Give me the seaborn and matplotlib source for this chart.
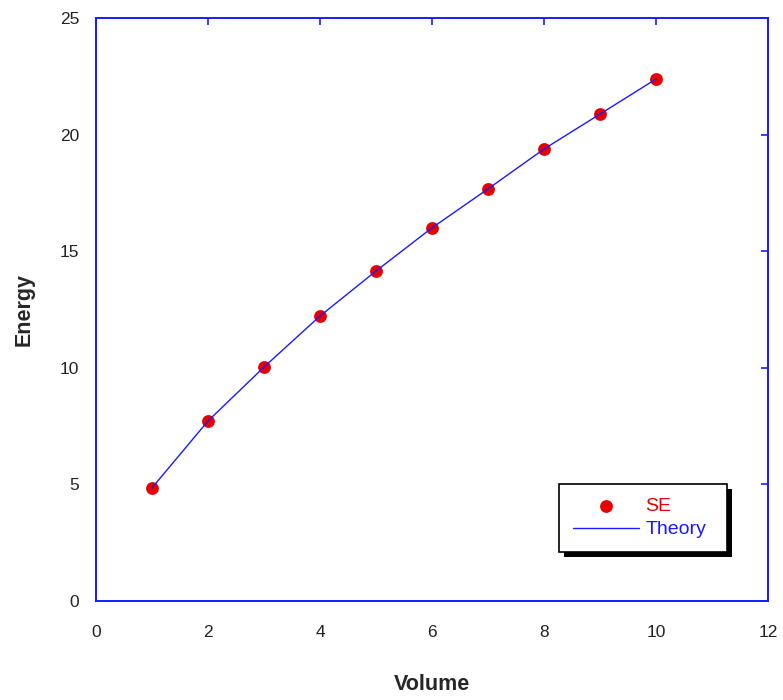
import matplotlib
matplotlib.use("Agg")
import matplotlib.pyplot as plt
import matplotlib.patches as mpatches
from matplotlib.transforms import IdentityTransform
import seaborn as sns
import pandas as pd

# Measured energy at each volume and the theory curve through the same points
volume = [1, 2, 3, 4, 5, 6, 7, 8, 9, 10]
energy_se = [4.85, 7.72, 10.03, 12.22, 14.15, 16.0, 17.67, 19.38, 20.88, 22.38]
energy_theory = [4.85, 7.72, 10.03, 12.22, 14.15, 16.0, 17.67, 19.38, 20.88, 22.38]
x_ticks = [0, 2, 4, 6, 8, 10, 12]
y_ticks = [0, 5, 10, 15, 20, 25]

df = pd.DataFrame({"Volume": volume, "SE": energy_se, "Theory": energy_theory})

sns.set_theme(style="white")
plt.rcParams["font.family"] = ["Liberation Sans", "DejaVu Sans"]

fig = plt.figure(figsize=(7.83, 7.00), dpi=100)
ax = fig.add_axes([0.1226, 0.1414, 0.8582, 0.8329])

blue = "#1a1aff"
red = "#e60000"

sns.scatterplot(data=df, x="Volume", y="SE", ax=ax, color=red, s=85,
                marker="o", edgecolor=red, linewidth=0, label="SE", zorder=2)
sns.lineplot(data=df, x="Volume", y="Theory", ax=ax, color=blue,
             linewidth=1.0, label="Theory", zorder=3)

ax.set_xlim(0, 12)
ax.set_ylim(0, 25)
ax.set_xticks(x_ticks)
ax.set_yticks(y_ticks)
ax.tick_params(axis="both", direction="in", length=5, width=1.2, color=blue,
               labelsize=12.5, labelcolor="#222222", top=True, right=True)
ax.tick_params(axis="x", pad=17)
ax.tick_params(axis="y", pad=12)
for sp in ax.spines.values():
    sp.set_color(blue)
    sp.set_linewidth(1.4)

ax.set_xlabel("Volume", fontsize=15.5, fontweight="bold", labelpad=25)
ax.set_ylabel("Energy", fontsize=15.5, fontweight="bold", labelpad=18)

leg = ax.legend(loc="lower left", bbox_to_anchor=(0.689, 0.084, 0.25, 0.12),
                mode="expand", frameon=True, fancybox=False, shadow=False,
                framealpha=1.0, edgecolor="black", facecolor="white",
                fontsize=14, handlelength=3.4, borderpad=0.7,
                labelspacing=0.3, handletextpad=0.35, borderaxespad=0)
leg.get_frame().set_linewidth(1.2)
leg.set_zorder(10)
for txt, col in zip(leg.get_texts(), [red, blue]):
    txt.set_color(col)

# Solid drop shadow behind the legend box
fig.canvas.draw()
bb = leg.get_frame().get_window_extent()
shadow = mpatches.Rectangle((bb.x0 + 5, bb.y0 - 5), bb.width, bb.height,
                            transform=IdentityTransform(), facecolor="black",
                            edgecolor="none", zorder=9)
ax.add_artist(shadow)

fig.savefig("out.png", dpi=100)
